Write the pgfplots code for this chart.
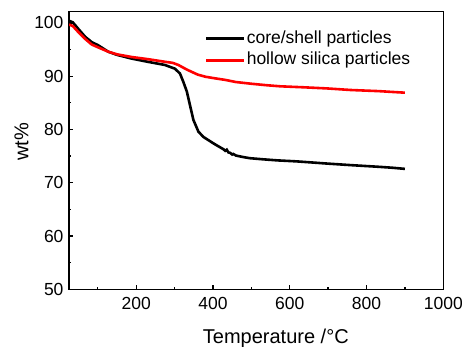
\documentclass[border=0pt]{standalone}
\usepackage{fontspec}
\setmainfont{Liberation Sans}
\usepackage{pgfplots}
\pgfplotsset{compat=1.18}
\begin{document}
\begin{tikzpicture}
\useasboundingbox (-69pt,-56.7pt) rectangle (393pt,289.3pt);
\begin{axis}[
 at={(0pt,0pt)}, anchor=south west,
 scale only axis, width=374.3pt, height=277.6pt,
 xmin=25, xmax=1000, ymin=50, ymax=102.1,
 xtick={200,400,600,800,1000}, minor xtick={100,300,500,700,900},
 ytick={50,60,70,80,90,100}, minor ytick={55,65,75,85,95},
 tick align=inside, xtick pos=bottom, ytick pos=left,
 major tick length=4pt, minor tick length=2.2pt,
 axis line style={line width=1.3pt},
 every tick/.style={line width=1.3pt,black},
 /pgf/number format/assume math mode=true,
 /pgf/number format/set thousands separator={},
 ticklabel style={font=\fontsize{17.5}{20}\selectfont},
 xticklabel style={yshift=-4pt},
 yticklabel style={xshift=-2pt},
 label style={font=\fontsize{20}{24}\selectfont},
 xlabel={Temperature /°C}, ylabel={wt\%},
 xlabel style={at={(axis description cs:0.5526,-0.1945)}, anchor=base},
 ylabel style={at={(axis description cs:-0.1082,0.532)}, anchor=base, rotate=0},
 legend cell align=left,
 legend image code/.code={\draw[#1] (0pt,0pt) -- (38pt,0pt);},
 legend style={at={(axis description cs:0.3633,0.9377)}, anchor=north west,
   draw=none, fill=none, inner sep=0pt, row sep=2.7pt,
   font=\fontsize{17.5}{20}\selectfont,
   nodes={inner sep=1pt, text height=13pt, text depth=4pt}},
]
\addplot[black, line width=2.6pt] coordinates {
(25,100.4) (35,100.1) (49,98.9) (67,97.4) (84,96.4) (101,95.8) (127,94.6)
(150,94.0) (188,93.3) (230,92.7) (275,92.1) (301,91.4) (314,90.5) (323,88.9)
(332,87.1) (340,84.6) (349,81.8) (362,79.6) (375,78.6) (388,78.0) (401,77.4)
(415,76.8) (427,76.3) (432,76.0) (436,76.2) (440,75.7) (445,75.6) (450,75.3)
(453,75.4) (460,75.1) (480,74.8) (497,74.6) (530,74.4) (567,74.2) (620,74.0)
(697,73.6) (760,73.3) (830,73.0) (870,72.8) (900,72.6)
};
\addlegendentry{core/shell particles}
\addplot[red, line width=2.6pt] coordinates {
(25,99.7) (35,99.4) (49,98.3) (67,97.0) (84,95.95) (101,95.4) (127,94.6)
(150,94.1) (188,93.6) (230,93.2) (275,92.7) (295,92.5) (310,92.1) (320,91.7)
(333,91.2) (345,90.8) (360,90.3) (380,89.9) (405,89.6) (432,89.3) (460,88.9)
(497,88.6) (540,88.3) (575,88.1) (640,87.9) (697,87.7) (760,87.4) (830,87.2)
(900,86.9)
};
\addlegendentry{hollow silica particles}
\end{axis}
\end{tikzpicture}
\end{document}
